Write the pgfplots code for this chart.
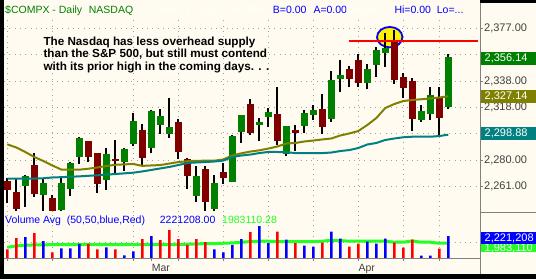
\documentclass[border=0pt]{standalone}
\usepackage{pgfplots}
\pgfplotsset{compat=1.18}
\usepackage{pgfplotstable}
\usepackage{fontspec}
\setmainfont{Liberation Sans}
\definecolor{cream}{HTML}{FFFBF0}
\definecolor{cgreen}{HTML}{008000}
\definecolor{cred}{HTML}{800000}
\definecolor{olivec}{HTML}{808000}
\definecolor{tealc}{HTML}{008080}
\definecolor{vblue}{HTML}{0000FF}
\definecolor{vred}{HTML}{FF0000}
\definecolor{avggreen}{HTML}{22FF22}
\definecolor{gridgray}{HTML}{A0A0A0}
\definecolor{framegray}{HTML}{808080}
\definecolor{labelgray}{HTML}{404040}
\newcommand\fs[1]{\fontsize{#1}{#1}\selectfont}

% up candles: k open high low close
\pgfplotstableread{
k o h l c
2 2261.2 2269.3 2246.0 2268.6
4 2254.8 2266.9 2243.1 2263.4
6 2243.8 2267.6 2243.1 2263.4
7 2259.2 2278.5 2253.9 2278.1
8 2282.7 2297.0 2277.4 2296.5
11 2265.8 2289.1 2258.5 2284.7
13 2279.1 2289.1 2272.5 2288.4
14 2292.1 2314.8 2290.6 2308.9
16 2289.1 2317.0 2285.4 2316.3
17 2306.0 2317.7 2299.4 2312.6
18 2299.6 2325.8 2296.5 2304.5
21 2253.9 2275.7 2249.7 2268.6
23 2244.6 2269.3 2243.1 2263.4
25 2264.2 2298.3 2263.8 2297.9
26 2300.9 2313.6 2292.8 2313.3
28 2306.0 2311.1 2294.3 2308.2
29 2311.9 2318.5 2304.5 2315.5
31 2284.7 2305.5 2283.2 2305.3
33 2305.5 2317.0 2300.3 2314.8
34 2313.6 2320.7 2309.9 2317.0
36 2310.6 2345.6 2308.4 2339.0
37 2340.0 2353.7 2330.5 2342.7
40 2336.8 2351.0 2332.4 2347.1
41 2350.1 2363.3 2341.5 2361.3
42 2358.6 2373.5 2348.6 2362.3
46 2309.9 2320.7 2308.4 2316.3
47 2314.1 2333.9 2309.9 2328.0
49 2319.4 2358.1 2318.0 2356.1
}\upT

% down candles
\pgfplotstableread{
k o h l c
0 2265.1 2266.9 2248.5 2258.3
1 2256.8 2266.1 2243.1 2244.6
3 2276.6 2285.7 2253.4 2255.3
5 2252.4 2254.4 2242.9 2243.1
9 2294.3 2294.6 2279.1 2282.7
10 2285.4 2285.8 2256.3 2262.9
12 2281.0 2295.0 2270.0 2279.6
15 2302.3 2306.7 2276.9 2282.0
19 2308.2 2310.4 2281.0 2286.4
20 2280.8 2281.8 2259.2 2268.6
22 2273.7 2275.9 2243.1 2249.5
24 2271.5 2278.1 2262.7 2267.1
27 2321.4 2325.1 2298.7 2300.1
30 2314.1 2333.9 2291.3 2294.5
32 2302.3 2306.0 2287.1 2300.3
35 2317.7 2328.8 2299.6 2304.8
38 2347.1 2349.3 2334.1 2339.8
39 2353.7 2358.1 2333.9 2336.8
43 2367.2 2375.8 2336.1 2339.0
44 2341.2 2344.2 2326.0 2333.4
45 2338.3 2340.5 2301.6 2310.4
48 2325.8 2333.9 2298.7 2311.4
}\dnT

% moving averages
\pgfplotstableread{
k m20 m50
0 2291.8 2266.6
1 2289.5 2266.6
2 2286.2 2266.6
3 2282.5 2266.7
4 2279.6 2266.9
5 2276.3 2267.5
6 2273.3 2267.7
7 2273.2 2268.0
8 2273.2 2268.3
9 2273.9 2268.7
10 2274.8 2269.1
11 2275.9 2269.6
12 2276.8 2270.0
13 2277.1 2270.5
14 2277.4 2271.0
15 2276.0 2271.9
16 2276.3 2273.0
17 2276.6 2274.1
18 2277.7 2275.2
19 2278.8 2276.6
20 2279.4 2278.1
21 2279.7 2278.5
22 2279.8 2278.8
23 2279.8 2279.2
24 2280.7 2279.9
25 2283.6 2282.5
26 2285.2 2283.6
27 2286.5 2284.3
28 2287.4 2285.4
29 2288.7 2286.2
30 2290.2 2286.2
31 2292.4 2286.0
32 2292.8 2285.4
33 2293.9 2285.4
34 2294.6 2285.4
35 2295.4 2285.4
36 2296.1 2285.8
37 2298.3 2286.9
38 2299.8 2287.6
39 2301.6 2289.1
40 2306.0 2291.7
41 2311.1 2292.8
42 2318.5 2295.0
43 2321.4 2296.1
44 2323.6 2297.0
45 2324.4 2297.4
46 2324.9 2297.4
47 2325.5 2297.4
48 2326.2 2297.9
49 2327.1 2298.9
}\maT

% volume (millions), blue bars
\pgfplotstableread{
k v
2 2.116
4 1.706
6 0.990
7 0.990
8 1.433
11 1.092
13 0.273
14 0.683
16 2.218
23 0.887
24 0.580
25 1.331
26 1.911
28 3.242
29 1.502
31 1.877
33 1.262
34 1.160
36 2.695
37 1.979
40 1.672
41 1.467
42 1.979
46 0.239
47 0.239
49 2.221
}\volB

% volume (millions), red bars
\pgfplotstableread{
k v
0 0.887
1 2.013
3 2.525
5 0.580
9 1.433
10 0.887
12 0.887
15 1.911
17 1.809
18 2.832
19 1.911
20 1.331
21 1.911
22 1.604
27 2.628
30 2.695
32 1.502
35 1.569
38 1.160
39 1.467
43 1.569
44 1.058
45 1.877
48 0.955
}\volR

% volume average
\pgfplotstableread{
k a
0 1.092
1 1.229
2 1.297
3 1.331
4 1.331
5 1.365
6 1.365
7 1.365
8 1.365
9 1.365
10 1.365
11 1.365
12 1.365
13 1.365
14 1.365
15 1.365
16 1.365
17 1.365
18 1.365
19 1.365
20 1.399
21 1.433
22 1.467
23 1.467
24 1.502
25 1.536
26 1.604
27 1.672
28 1.706
29 1.706
30 1.672
31 1.672
32 1.672
33 1.672
34 1.672
35 1.706
36 1.809
37 1.774
38 1.706
39 1.706
40 1.706
41 1.706
42 1.706
43 1.604
44 1.604
45 1.740
46 1.604
47 1.604
48 1.502
49 1.502
}\vavgT

\pgfplotsset{
  wick/.style={draw=none, mark=none, error bars/.cd, y dir=plus, y explicit, error mark=none,
    error bar style={draw=black, line width=1.8pt, solid}},
  body/.style={draw=none, mark=none, error bars/.cd, y dir=both, y explicit, error mark=none,
    error bar style={draw=#1, line width=7pt, solid}},
  mygrid/.style={grid=major, major grid style={draw=gridgray, line width=0.8pt, dash pattern=on 0.8pt off 4.5pt}},
}

\begin{document}
\begin{tikzpicture}
\fill[black] (0pt,0pt) rectangle (536pt,-279pt);
\fill[cream] (4pt,0pt) rectangle (480pt,-274pt);
\fill[cream] (480pt,-3pt) rectangle (536pt,-274pt);

% ---------------- price panel ----------------
\begin{axis}[
  at={(4pt,-212pt)}, anchor=south west,
  width=476pt, height=194pt, scale only axis,
  xmin=-0.3667, xmax=52.522,
  ymin=2242.13, ymax=2384.56,
  axis line style={draw=none},
  xtick={0,5,14,19,24,29,34,39,44,48},
  xticklabel=\empty,
  ytick={2261,2280.33,2299.67,2319,2338.33,2357.67,2377},
  yticklabel=\empty,
  ytick pos=right,
  xtick style={draw=none},
  ytick style={draw=framegray, line width=0.8pt},
  tick align=outside, major tick length=3pt,
  mygrid,
]
\draw[vblue, line width=1.8pt, fill=yellow] (axis cs:42.49,2370.5) ellipse [x radius=12.7pt, y radius=10.2pt];
\addplot[wick] table[x=k, y=l, y error expr=\thisrow{h}-\thisrow{l}] \upT;
\addplot[wick] table[x=k, y=l, y error expr=\thisrow{h}-\thisrow{l}] \dnT;
\addplot[body=cgreen] table[x=k, y expr=(\thisrow{o}+\thisrow{c})/2, y error expr=abs(\thisrow{c}-\thisrow{o})/2] \upT;
\addplot[body=cred] table[x=k, y expr=(\thisrow{o}+\thisrow{c})/2, y error expr=abs(\thisrow{c}-\thisrow{o})/2] \dnT;
\addplot[olivec, line width=2pt, mark=none] table[x=k, y=m20] \maT;
\addplot[tealc, line width=2pt, mark=none] table[x=k, y=m50] \maT;
\addplot[vred, line width=2pt, mark=none] coordinates {(38,2367.7) (52.3,2367.7)};
\end{axis}

% ---------------- volume panel ----------------
\begin{axis}[
  at={(4pt,-258pt)}, anchor=south west,
  width=476pt, height=46pt, scale only axis,
  xmin=-0.3667, xmax=52.522, ymin=0, ymax=4.68,
  axis line style={draw=none},
  xtick={0,5,14,19,24,29,34,39,44,48},
  extra x ticks={16}, extra x tick labels={}, extra x tick style={grid=none},
  xticklabel=\empty,
  ytick={1.57}, yticklabel=\empty, ytick style={draw=none},
  xtick pos=bottom, tick align=outside, major tick length=3pt,
  xtick style={draw=framegray, line width=0.8pt},
  mygrid,
]
\addplot[avggreen, line width=3pt, mark=none] table[x=k, y=a] \vavgT;
\addplot[ybar, bar width=2.6pt, bar shift=0pt, fill=vblue, draw=none] table[x=k, y=v] \volB;
\addplot[ybar, bar width=2.6pt, bar shift=0pt, fill=vred, draw=none] table[x=k, y=v] \volR;
\end{axis}

% frame lines
\draw[framegray, line width=0.8pt] (480pt,-3pt) -- (480pt,-274pt);
\draw[framegray, line width=0.8pt] (4pt,-258pt) -- (480pt,-258pt);
\draw[framegray, line width=0.8pt] (480pt,-212pt) -- (536pt,-212pt);

% header texts
\begin{scope}[every node/.style={anchor=base west, inner sep=0pt}]
\node[text=cgreen] at (5pt,-13.5pt) {\fs{10.5}\$COMPX - Daily};
\node[text=cgreen] at (88.7pt,-13.5pt) {\fs{10.5}NASDAQ};
\node[text=white] at (140pt,-13.5pt) {\fs{10.5}L=2356.14\ \ +0.00\ \ +0.00\%};
\node[text=vblue] at (272.7pt,-13.5pt) {\fs{10.5}B=0.00};
\node[text=vblue] at (313.3pt,-13.5pt) {\fs{10.5}A=0.00};
\node[text=white] at (346pt,-13.5pt) {\fs{10.5}O=0.00};
\node[text=vblue] at (394.3pt,-13.5pt) {\fs{10.5}Hi=0.00};
\node[text=vblue] at (436.7pt,-13.5pt) {\fs{10.5}Lo=...};
% annotation
\node[text=black, font=\bfseries] at (43.3pt,-45pt) {\fs{11.7}The Nasdaq has less overhead supply};
\node[text=black, font=\bfseries] at (43.3pt,-57.7pt) {\fs{11.7}than the S\&P 500, but still must contend};
\node[text=black, font=\bfseries] at (43.3pt,-70.4pt) {\fs{11.7}with its prior high in the coming days. . .};
% volume header
\node[text=vblue] at (5pt,-223.3pt) {\fs{10.5}Volume Avg\ \ (50,50,blue,Red)};
\node[text=vblue] at (159.7pt,-223.3pt) {\fs{10.5}2221208.00};
\node[text=avggreen] at (222pt,-223.3pt) {\fs{10.5}1983110.28};
% months
\node[text=labelgray] at (151.7pt,-271.5pt) {\fs{10.5}Mar};
\node[text=labelgray] at (358.3pt,-271.5pt) {\fs{10.5}Apr};
\end{scope}

% right price labels
\begin{scope}[every node/.style={anchor=west, inner sep=0pt}]
\node[text=labelgray] at (484pt,-28.3pt) {\fs{11}2,377.00};
\node[text=labelgray] at (484pt,-81pt) {\fs{11}2,338.00};
\node[text=labelgray] at (484pt,-107.3pt) {\fs{11}2,318.00};
\node[text=labelgray] at (484pt,-159.9pt) {\fs{11}2,280.00};
\node[text=labelgray] at (484pt,-186.3pt) {\fs{11}2,261.00};
\fill[cgreen] (481pt,-52.3pt) rectangle (536pt,-65.3pt);
\node[text=white] at (484.5pt,-58.8pt) {\fs{11}2,356.14};
\fill[olivec] (481pt,-90pt) rectangle (536pt,-103.3pt);
\node[text=white] at (484.5pt,-96.7pt) {\fs{11}2,327.14};
\fill[tealc] (481pt,-127.3pt) rectangle (536pt,-140pt);
\node[text=white] at (484.5pt,-133.7pt) {\fs{11}2,298.88};
\fill[avggreen] (481pt,-244pt) rectangle (536pt,-251.7pt);
\node[text=white] at (484.5pt,-248pt) {\fs{11}1,983,110};
\fill[vblue] (481pt,-231.7pt) rectangle (536pt,-244pt);
\node[text=white] at (484.5pt,-237.9pt) {\fs{11}2,221,208};
\end{scope}

\pgfresetboundingbox
\path[use as bounding box] (0pt,0pt) rectangle (536pt,-279pt);
\end{tikzpicture}
\end{document}
